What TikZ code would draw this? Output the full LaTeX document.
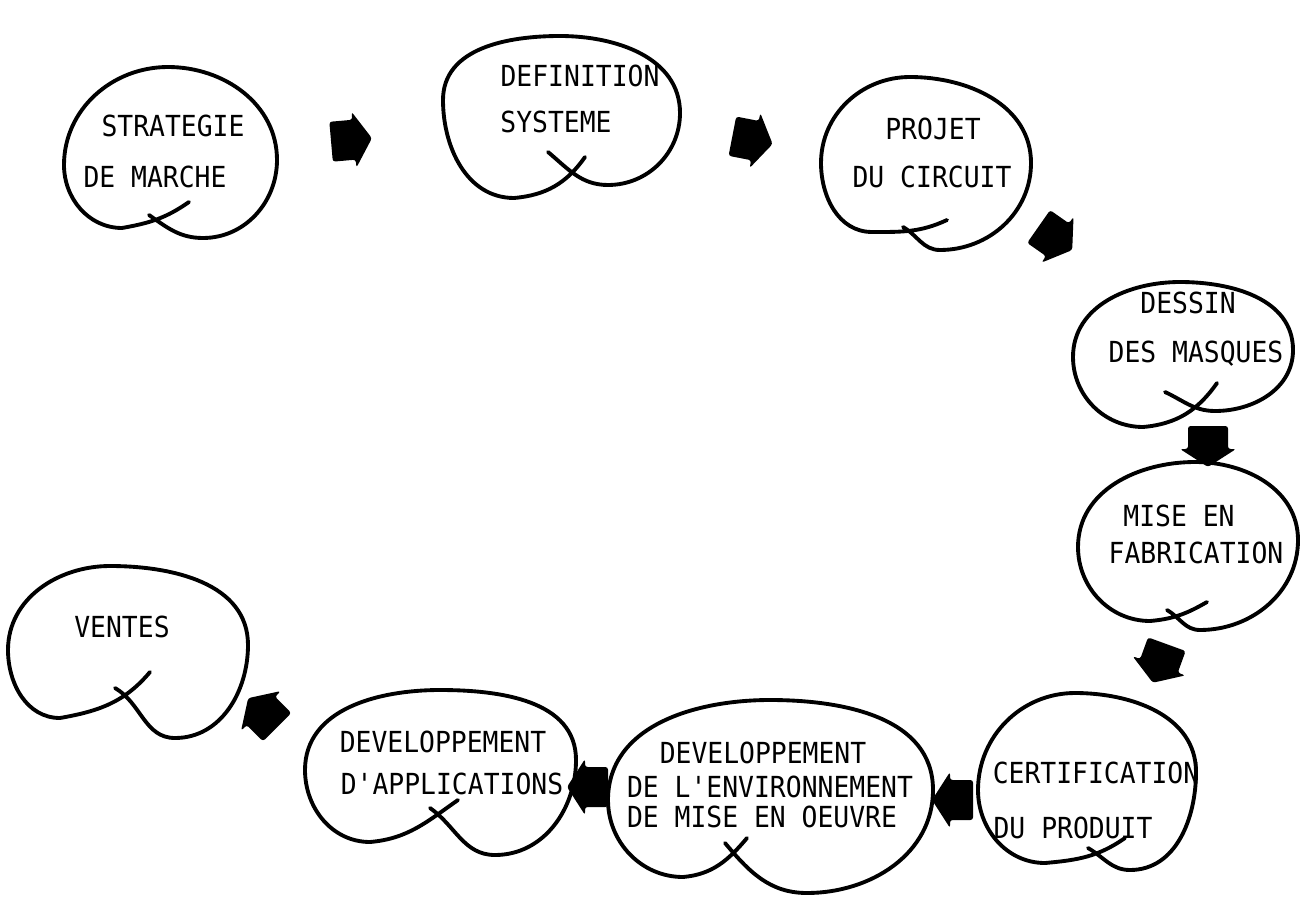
\documentclass[tikz,border=0pt]{standalone}
\usepackage{fontspec}
\newfontfamily\typew{DejaVu Sans Mono}[FakeStretch=0.91]
\begin{document}
\begin{tikzpicture}[x=0.02cm,y=0.02cm]
\tikzset{
  loopline/.style={line width=2.2pt, line cap=round, line join=round},
  lbl/.style={font=\typew\fontsize{16.5}{18}\selectfont, inner sep=0pt, anchor=center},
  blockarrow/.pic={\fill[rounded corners=1.5pt] (-20,-20) -- (3,-20) -- (3,-28) -- (21,0) -- (3,28) -- (3,20) -- (-20,20) -- cycle;}
}
\useasboundingbox (0,0) rectangle (1300,-898);
% loops
\draw[loopline] (149,-215) to[out=-35,in=180] (203,-238) to[out=0,in=-90] (277,-160) to[out=90,in=0] (168,-67) to[out=180,in=90] (64,-165) to[out=-90,in=180] (122,-228) to[out=10,in=-145] (189,-202);
\draw[loopline] (548,-152) to[out=-40,in=180] (608,-185) to[out=0,in=-90] (680,-113) to[out=90,in=0] (560,-36) to[out=180,in=90] (443,-100) to[out=-90,in=180] (514,-198) to[out=5,in=-125] (585,-157);
\draw[loopline] (903,-227) to[out=-30,in=180] (940,-250) to[out=0,in=-90] (1031,-163) to[out=90,in=0] (910,-77) to[out=180,in=90] (821,-163) to[out=-90,in=180] (872,-232) to[out=0,in=-155] (947,-220);
\draw[loopline] (1165,-392) to[out=-25,in=180] (1215,-411) to[out=0,in=-90] (1293,-350) to[out=90,in=0] (1180,-282) to[out=180,in=90] (1073,-357) to[out=-90,in=180] (1143,-427) to[out=5,in=-125] (1217,-383);
\draw[loopline] (1167,-610) to[out=-30,in=180] (1200,-630) to[out=0,in=-90] (1298,-540) to[out=90,in=0] (1195,-462) to[out=180,in=90] (1078,-547) to[out=-90,in=180] (1150,-621) to[out=5,in=-150] (1207,-602);
\draw[loopline] (1088,-848) to[out=-30,in=180] (1130,-870) to[out=0,in=-90] (1196,-772) to[out=90,in=0] (1075,-693) to[out=180,in=90] (978,-790) to[out=-90,in=180] (1045,-863) to[out=5,in=-145] (1125,-838);
\draw[loopline] (725,-843) to[out=-50,in=180] (807,-893) to[out=0,in=-90] (933,-790) to[out=90,in=0] (770,-700) to[out=180,in=90] (608,-800) to[out=-90,in=180] (683,-877) to[out=5,in=-130] (747,-838);
\draw[loopline] (430,-808) to[out=-35,in=180] (495,-855) to[out=0,in=-90] (576,-760) to[out=90,in=0] (440,-690) to[out=180,in=90] (305,-770) to[out=-90,in=180] (370,-842) to[out=5,in=-145] (458,-800);
\draw[loopline] (115,-688) to[out=-30,in=180] (175,-738) to[out=0,in=-90] (248,-645) to[out=90,in=0] (110,-566) to[out=180,in=90] (8,-650) to[out=-90,in=180] (60,-718) to[out=10,in=-130] (150,-672);
% labels
\node[lbl] (s1) at (173,-126) {STRATEGIE};
\node[lbl] (s2) at (155,-177) {DE MARCHE};
\node[lbl] (d1) at (580,-76) {DEFINITION};
\node[lbl] (d2) at (556,-122) {SYSTEME};
\node[lbl] (p1) at (933,-129) {PROJET};
\node[lbl] (p2) at (932,-177) {DU CIRCUIT};
\node[lbl] (m1) at (1188,-303) {DESSIN};
\node[lbl] (m2) at (1196,-354) {DES MASQUES};
\node[lbl] (f1) at (1179,-516) {MISE EN};
\node[lbl] (f2) at (1196,-553) {FABRICATION};
\node[lbl] (c1) at (1096,-773) {CERTIFICATION};
\node[lbl] (c2) at (1073,-828) {DU PRODUIT};
\node[lbl] (e1) at (763,-753) {DEVELOPPEMENT};
\node[lbl] (e2) at (770,-787) {DE L'ENVIRONNEMENT};
\node[lbl] (e3) at (762,-817) {DE MISE EN OEUVRE};
\node[lbl] (a1) at (443,-742) {DEVELOPPEMENT};
\node[lbl] (a2) at (452,-784) {D'APPLICATIONS};
\node[lbl] (v1) at (122,-627) {VENTES};
% arrows
\pic[rotate=5] at (351,-140) {blockarrow};
\pic[rotate=-11] at (752,-140) {blockarrow};
\pic[rotate=-35] at (1055,-238) {blockarrow};
\pic[rotate=-90] at (1208,-446) {blockarrow};
\pic[rotate=-110] at (1160,-663) {blockarrow};
\pic[rotate=180] at (953,-800) {blockarrow};
\pic[rotate=180] at (588,-787) {blockarrow};
\pic[rotate=135] at (263,-713) {blockarrow};
\end{tikzpicture}
\end{document}
